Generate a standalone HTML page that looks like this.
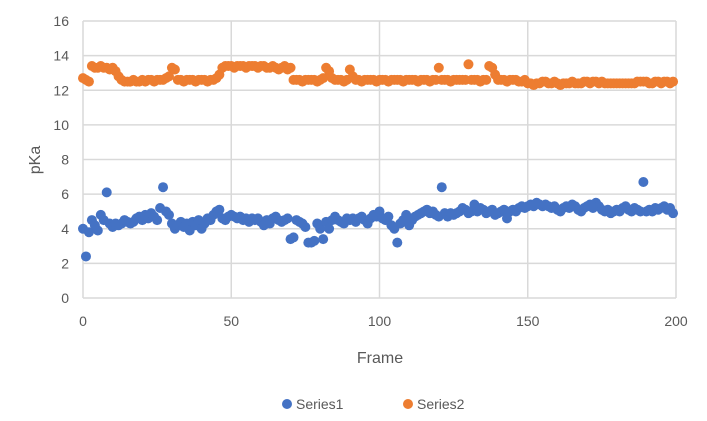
<!DOCTYPE html>
<html><head><meta charset="utf-8"><style>
body{margin:0;background:#fff;font-family:"Liberation Sans",sans-serif;}
svg text{font-family:"Liberation Sans",sans-serif;fill:#595959;}
</style></head><body>
<svg id="chart" width="707" height="416" xmlns="http://www.w3.org/2000/svg">
<g id="grid"></g>
<g id="axes"></g>
<g id="s2"></g>
<g id="s1"></g>
<text x="380" y="363" font-size="16" text-anchor="middle">Frame</text>
<text x="40" y="160" font-size="16" text-anchor="middle" transform="rotate(-90 40 160)">pKa</text>
<g>
<g><circle cx="287" cy="404" r="5" fill="#4472c4"/><text x="296" y="409" font-size="14">Series1</text></g>
<g><circle cx="408" cy="404" r="5" fill="#ed7d31"/><text x="417" y="409" font-size="14">Series2</text></g>
</g>
</svg>
<script>
const xTicks=[0,50,100,150,200];
const yTicks=[0,2,4,6,8,10,12,14,16];
const series1=[4.0,2.4,3.8,4.5,4.2,3.9,4.8,4.5,6.1,4.3,4.1,4.3,4.2,4.3,4.5,4.4,4.3,4.4,4.6,4.7,4.5,4.8,4.6,4.9,4.7,4.5,5.2,6.4,5.0,4.8,4.3,4.0,4.2,4.4,4.1,4.3,3.9,4.4,4.2,4.5,4.0,4.3,4.6,4.5,4.8,5.0,5.1,4.6,4.5,4.7,4.8,4.7,4.6,4.7,4.5,4.6,4.4,4.6,4.5,4.6,4.4,4.2,4.5,4.3,4.6,4.7,4.5,4.4,4.5,4.6,3.4,3.5,4.5,4.4,4.3,4.1,3.2,3.2,3.3,4.3,4.0,3.4,4.4,4.0,4.5,4.7,4.5,4.4,4.3,4.6,4.5,4.6,4.4,4.6,4.7,4.5,4.3,4.6,4.8,4.7,5.0,4.6,4.5,4.7,4.2,4.0,3.2,4.3,4.5,4.8,4.2,4.5,4.7,4.8,4.9,5.0,5.1,4.9,5.0,4.8,4.7,6.4,4.9,4.7,4.9,4.8,4.9,5.0,5.2,5.1,4.9,5.0,5.4,5.0,5.2,5.1,4.9,5.0,5.1,4.8,4.9,5.0,5.1,4.6,5.0,5.1,5.0,5.2,5.3,5.2,5.3,5.4,5.3,5.5,5.4,5.3,5.4,5.3,5.2,5.3,5.1,5.0,5.2,5.3,5.2,5.4,5.3,5.1,5.0,5.2,5.3,5.4,5.2,5.5,5.3,5.1,5.0,5.1,4.9,5.0,5.1,5.0,5.2,5.3,5.1,5.0,5.2,5.1,5.0,6.7,5.0,5.1,5.0,5.2,5.1,5.2,5.3,5.1,5.2,4.9];
const series2=[12.7,12.6,12.5,13.4,13.3,13.3,13.4,13.3,13.3,13.2,13.3,13.1,12.8,12.6,12.5,12.5,12.5,12.6,12.5,12.5,12.6,12.5,12.6,12.6,12.5,12.6,12.6,12.6,12.7,12.8,13.3,13.2,12.6,12.6,12.5,12.6,12.6,12.6,12.5,12.6,12.6,12.6,12.5,12.6,12.6,12.7,12.9,13.3,13.4,13.4,13.4,13.3,13.4,13.4,13.4,13.3,13.4,13.4,13.4,13.3,13.4,13.4,13.3,13.3,13.4,13.3,13.2,13.3,13.4,13.2,13.3,12.6,12.6,12.6,12.5,12.6,12.6,12.6,12.6,12.5,12.6,12.7,13.3,13.1,12.7,12.6,12.6,12.6,12.5,12.6,13.2,12.8,12.6,12.6,12.5,12.6,12.6,12.6,12.6,12.5,12.6,12.6,12.6,12.5,12.6,12.6,12.6,12.6,12.5,12.6,12.6,12.6,12.6,12.5,12.6,12.6,12.6,12.5,12.6,12.6,13.3,12.6,12.6,12.6,12.5,12.6,12.6,12.6,12.6,12.6,13.5,12.6,12.6,12.6,12.5,12.6,12.6,13.4,13.3,12.9,12.6,12.6,12.6,12.5,12.6,12.6,12.6,12.5,12.5,12.6,12.4,12.4,12.3,12.4,12.4,12.5,12.5,12.4,12.4,12.5,12.4,12.3,12.4,12.4,12.4,12.5,12.4,12.4,12.4,12.5,12.5,12.4,12.5,12.5,12.4,12.5,12.4,12.4,12.4,12.4,12.4,12.4,12.4,12.4,12.4,12.4,12.4,12.5,12.5,12.5,12.5,12.4,12.4,12.5,12.5,12.4,12.5,12.5,12.4,12.5];
const L=83,R=676,T=21,B=298;
const xs=v=>L+(v-0)/200*(R-L);
const ys=v=>B-(v/16)*(B-T);
const NS="http://www.w3.org/2000/svg";
function mk(tag,attrs,parent){const e=document.createElementNS(NS,tag);for(const k in attrs)e.setAttribute(k,attrs[k]);parent.appendChild(e);return e;}
const grid=document.getElementById('grid'),axes=document.getElementById('axes');
yTicks.forEach(t=>{
 const l=mk('line',{x1:L,x2:R,y1:ys(t),y2:ys(t),stroke:'#d9d9d9','stroke-width':1.5},grid);
 
 
 const tx=mk('text',{x:L-14,y:ys(t)+5,'font-size':14,'text-anchor':'end'},axes);
 tx.textContent=t;
 
 
});
xTicks.forEach(t=>{
 const l=mk('line',{x1:xs(t),x2:xs(t),y1:T,y2:B,stroke:'#d9d9d9','stroke-width':1.5},grid);
 
 
 const tx=mk('text',{x:xs(t),y:B+28,'font-size':14,'text-anchor':'middle'},axes);
 tx.textContent=t;
 
 
});
function draw(arr,g,color,name){
 arr.forEach((v,i)=>{
  const c=mk('circle',{cx:xs(i),cy:ys(v),r:5,fill:color},g);
  
  
 });
}
draw(series2,document.getElementById('s2'),'#ed7d31','series2-point');
draw(series1,document.getElementById('s1'),'#4472c4','series1-point');
</script>
</body></html>
